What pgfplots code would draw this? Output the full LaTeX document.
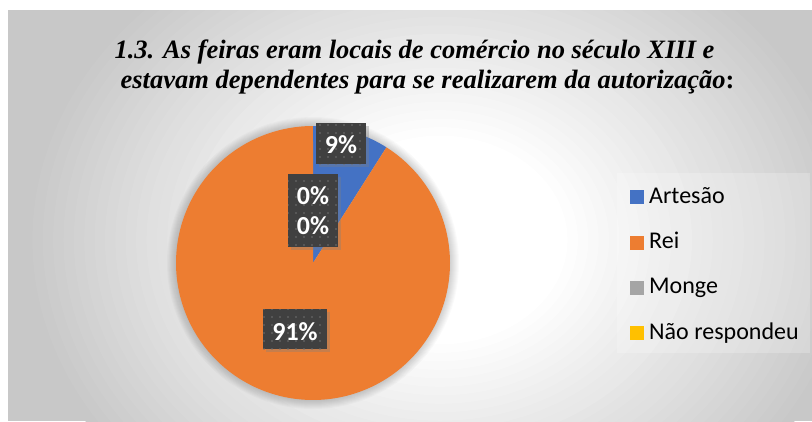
\documentclass[border=0pt]{standalone}
\usepackage{pgfplots}
\pgfplotsset{compat=1.18}
\usepackage{pgfplotstable}
\usepackage{fontspec}
\setmainfont{Liberation Serif}
\newfontfamily\tnr{Liberation Serif}
\newfontfamily\calibri{Carlito}
\usetikzlibrary{shadows,patterns.meta}
\definecolor{cA}{HTML}{4472C4}
\definecolor{cR}{HTML}{ED7D31}
\definecolor{cM}{HTML}{A5A5A5}
\definecolor{cN}{HTML}{FFC000}
\definecolor{bggray}{HTML}{C8C8C8}
\definecolor{lblbg}{HTML}{404040}

\pgfplotstableread{
cat value
Artesao 9
Rei 91
Monge 0
NaoRespondeu 0
}\piedata

\begin{document}
\begin{tikzpicture}
% background (picture coordinates: 1pt = 1px, origin bottom left)
\fill[white] (0,0) rectangle (812pt,421pt);
\begin{scope}
\clip (8pt,0pt) rectangle (812pt,410pt);
\fill[bggray] (0,0) rectangle (812pt,421pt);
\foreach \k in {0,...,28} {
  \pgfmathsetmacro\t{0.95-\k*0.66/28}
  \pgfmathsetmacro\p{\k*100/28}
  \fill[white!\p!bggray] (440pt,181pt) ellipse[x radius={440*\t pt}, y radius={360*\t pt}];
}
\end{scope}
\pgfplotstablegetelem{0}{value}\of\piedata \pgfmathsetmacro\vA{\pgfplotsretval}
\pgfplotstablegetelem{1}{value}\of\piedata \pgfmathsetmacro\vR{\pgfplotsretval}
\pgfmathsetmacro\aA{3.6*\vA}
\pgfmathsetmacro\aR{\aA+3.6*\vR}
\begin{axis}[
  at={(0pt,0pt)}, anchor=south west,
  scale only axis, width=812pt, height=421pt,
  xmin=0, xmax=812, ymin=0, ymax=421, y dir=reverse,
  hide axis, clip bounding box=upper bound,
  legend style={at={(axis cs:630,186)}, anchor=north west, draw=none, fill=none,
    inner sep=0pt, font=\calibri\fontsize{24}{28}\selectfont, row sep=23.3pt,
    nodes={inner sep=0pt, text height=17pt, text depth=5pt},
    /tikz/every odd column/.append style={column sep=5pt}},
  legend cell align=left,
  legend image code/.code={\fill[#1, draw=none] (0pt,-7pt) rectangle (14pt,7pt);},
]
% legend box
\fill[white, opacity=0.22] (axis cs:617,173) rectangle (axis cs:810,353);
% pie halo
\pgfplotsinvokeforeach{146,145,144,143,142,141,140,139,138}{
  \fill[black, opacity=0.018] (axis cs:313,263) circle[radius=#1];
}
% pie slices
\addplot[forget plot, draw=none, fill=cA, domain=0:\aA, samples=40]
  ({313+137*sin(x)}, {263-137*cos(x)}) -- (axis cs:313,263) -- cycle;
\addplot[forget plot, draw=none, fill=cR, domain=\aA:\aR, samples=200]
  ({313+137*sin(x)}, {263-137*cos(x)}) -- (axis cs:313,263) -- cycle;
% legend
\addlegendimage{fill=cA}\addlegendentry{Artesão}
\addlegendimage{fill=cR}\addlegendentry{Rei}
\addlegendimage{fill=cM}\addlegendentry{Monge}
\addlegendimage{fill=cN}\addlegendentry{Não respondeu}
% data labels
\fill[lblbg, drop shadow={shadow xshift=3pt, shadow yshift=-3pt, opacity=0.35}] (axis cs:316,123.3) rectangle (axis cs:366,164.3);
\fill[pattern={Dots[distance=8pt, radius=0.9pt]}, pattern color=white!25!lblbg] (axis cs:316,123.3) rectangle (axis cs:366,164.3);
\fill[lblbg, drop shadow={shadow xshift=3pt, shadow yshift=-3pt, opacity=0.35}] (axis cs:288,174) rectangle (axis cs:337.7,246.7);
\fill[pattern={Dots[distance=8pt, radius=0.9pt]}, pattern color=white!25!lblbg] (axis cs:288,174) rectangle (axis cs:337.7,246.7);
\fill[lblbg, drop shadow={shadow xshift=3pt, shadow yshift=-3pt, opacity=0.35}] (axis cs:263.3,309) rectangle (axis cs:326.7,349.3);
\fill[pattern={Dots[distance=8pt, radius=0.9pt]}, pattern color=white!25!lblbg] (axis cs:263.3,309) rectangle (axis cs:326.7,349.3);
\tikzset{lbl/.style={anchor=base, inner sep=0pt, text=white, font=\calibri\bfseries\fontsize{26}{30}\selectfont}}
\node[lbl] at (axis cs:341,153.3) {9\%};
\node[lbl] at (axis cs:313,204.3) {0\%};
\node[lbl] at (axis cs:313,234.3) {0\%};
\node[lbl] at (axis cs:295,340) {91\%};
% title
\tikzset{ttl/.style={anchor=base, inner sep=0pt, font=\tnr\bfseries\itshape\fontsize{26.5}{30}\selectfont}}
\node[ttl] at (axis cs:414.5,58) {1.3. As feiras eram locais de comércio no século XIII e};
\node[ttl] at (axis cs:427.5,88) {estavam dependentes para se realizarem da autorização\textup{:}};
\end{axis}
\end{tikzpicture}
\end{document}
